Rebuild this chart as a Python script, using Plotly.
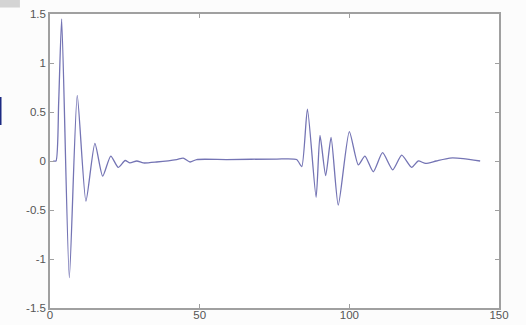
import plotly.graph_objects as go

# signal samples (x = sample index, y = amplitude)
x_vals = [1.1, 2.0, 2.9, 3.9, 6.45, 9.1, 12.0, 15.0, 17.6, 20.3, 22.8, 25.1, 26.7,
          29.0, 31.2, 35.6, 42.3, 44.5, 46.8, 49.0, 59.0, 75.7, 82.4,
          84.1, 86.0, 88.9, 90.2, 92.1, 93.9, 96.3, 100.0, 103.0, 105.2, 108.0,
          111.1, 114.5, 117.5, 120.8, 123.0, 125.5, 129.0, 133.6, 138.0, 143.7]
y_vals = [0.0, 0.0, 0.6, 1.45, -1.19, 0.67, -0.41, 0.18, -0.155, 0.05, -0.065, 0.005, -0.02,
          0.0, -0.02, -0.01, 0.015, 0.03, -0.01, 0.015, 0.015, 0.02, 0.015,
          -0.058, 0.53, -0.37, 0.26, -0.15, 0.24, -0.45, 0.30, -0.04, 0.05, -0.11,
          0.085, -0.09, 0.06, -0.065, 0.0, -0.025, 0.0, 0.03, 0.025, 0.0]

x_ticks = [0, 50, 100, 150]
y_ticks = [-1.5, -1, -0.5, 0, 0.5, 1, 1.5]
y_tick_text = ["-1.5", "-1", "-0.5", "0", "0.5", "1", "1.5"]

fig = go.Figure()
fig.add_trace(go.Scatter(x=x_vals, y=y_vals, mode="lines",
                         line=dict(color="#7474b4", width=1.3, shape="spline", smoothing=0.6),
                         hoverinfo="skip"))

axis_common = dict(showgrid=False, zeroline=False, showline=True, linecolor="#a0a0a0",
                   linewidth=1.5, mirror="allticks", ticks="inside", ticklen=4,
                   tickcolor="#a0a0a0", tickwidth=1, automargin=False,
                   tickfont=dict(family="Liberation Sans, Arial", size=11.5, color="#555"))

fig.update_xaxes(range=[0, 150], tickvals=x_ticks, ticktext=[str(t) for t in x_ticks],
                 ticklabelstandoff=-5, **axis_common)
fig.update_yaxes(range=[-1.5, 1.5], tickvals=y_ticks, ticktext=y_tick_text,
                 **axis_common)

fig.update_layout(
    width=526, height=325,
    margin=dict(l=50, r=27, t=14, b=17),
    paper_bgcolor="#fcfcfc", plot_bgcolor="#ffffff",
    showlegend=False,
    shapes=[
        dict(type="rect", xref="paper", yref="paper", x0=-0.112, x1=-0.067,
             y0=1.022, y1=1.05, fillcolor="#d4d4d4", line=dict(width=0), layer="below"),
        dict(type="rect", xref="paper", yref="paper", x0=-0.112, x1=-0.108,
             y0=(308 - 125) / 294, y1=(308 - 97) / 294, fillcolor="#1c2a82",
             line=dict(width=0), layer="below"),
    ],
)

fig.write_html("out.html")
